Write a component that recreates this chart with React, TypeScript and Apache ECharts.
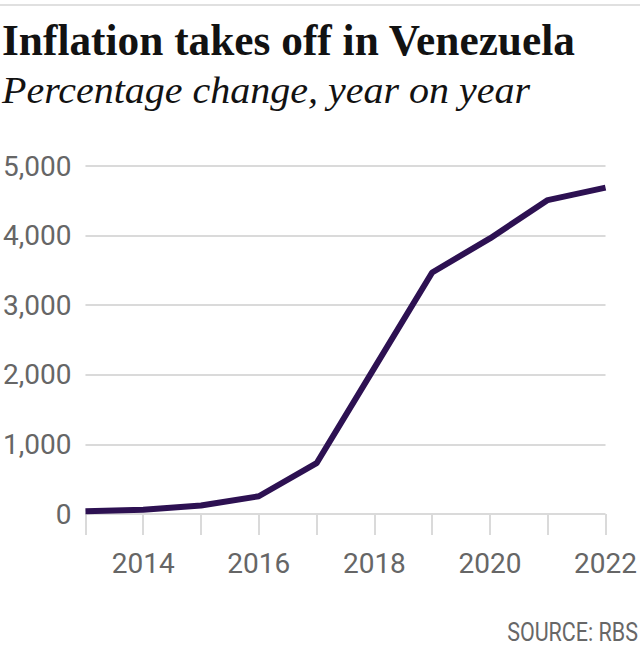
import React, { useEffect, useRef } from "react";
import * as echarts from "echarts";

const TITLE = "Inflation takes off in Venezuela";
const SUBTITLE = "Percentage change, year on year";
const SOURCE = "SOURCE: RBS";

const years = ["2013", "2014", "2015", "2016", "2017", "2018", "2019", "2020", "2021", "2022"];
const inflation = [40, 62, 122, 255, 730, 2100, 3470, 3960, 4510, 4690];

const yMin = 0;
const yMax = 5000;
const yStep = 1000;

function measure(text: string, font: string): number {
  const c = document.createElement("canvas");
  const ctx = c.getContext("2d");
  if (!ctx) return 0;
  ctx.font = font;
  return ctx.measureText(text).width;
}

export default function App() {
  const ref = useRef<HTMLDivElement>(null);

  useEffect(() => {
    if (!ref.current) return;
    const chart = echarts.init(ref.current, undefined, { renderer: "svg" });

    const titleFont = 'bold 44px "Liberation Serif"';
    const subFont = 'italic 38px "Liberation Serif"';
    const srcFont = '26px Roboto';
    const tw = measure(TITLE, titleFont) || 587;
    const sw = measure(SUBTITLE, subFont) || 503;
    const rw = measure(SOURCE, srcFont) || 159;

    chart.setOption({
      animation: false,
      backgroundColor: "#ffffff",
      grid: { left: 83, right: 32, top: 166, bottom: 149, containLabel: false },
      graphic: [
        {
          type: "rect",
          left: 0,
          top: 4,
          shape: { x: 0, y: 0, width: 640, height: 2 },
          style: { fill: "#e0e0e0" },
        },
        {
          type: "text",
          x: 2,
          y: 40,
          scaleX: 574 / tw,
          style: {
            text: TITLE,
            fontFamily: "Liberation Serif",
            fontWeight: "bold",
            fontSize: 44,
            fill: "#121212",
            align: "left",
            verticalAlign: "middle",
          },
        },
        {
          type: "text",
          x: 2,
          y: 90,
          scaleX: 528 / sw,
          style: {
            text: SUBTITLE,
            fontFamily: "Liberation Serif",
            fontStyle: "italic",
            fontSize: 38,
            fill: "#121212",
            align: "left",
            verticalAlign: "middle",
          },
        },
        {
          type: "text",
          x: 638,
          y: 632,
          scaleX: 131 / rw,
          style: {
            text: SOURCE,
            fontFamily: "Roboto",
            fontSize: 26,
            fill: "#676767",
            align: "right",
            verticalAlign: "middle",
          },
        },
      ],
      xAxis: {
        type: "category",
        data: years,
        boundaryGap: false,
        axisLine: { show: false },
        axisTick: {
          show: true,
          interval: 0,
          length: 21,
          lineStyle: { color: "#dadada", width: 2 },
        },
        axisLabel: {
          interval: (index: number, value: string) => Number(value) % 2 === 0,
          margin: 35,
          fontFamily: "Roboto",
          fontSize: 28,
          color: "#666666",
          lineHeight: 28,
        },
        splitLine: { show: false },
      },
      yAxis: {
        type: "value",
        min: yMin,
        max: yMax,
        interval: yStep,
        axisLine: { show: false },
        axisTick: { show: false },
        axisLabel: {
          margin: 14,
          fontFamily: "Roboto",
          fontSize: 28,
          color: "#666666",
          formatter: (v: number) => v.toLocaleString("en-US"),
        },
        splitLine: { show: true, lineStyle: { color: "#dadada", width: 2 } },
      },
      series: [
        {
          type: "line",
          data: inflation,
          symbol: "none",
          lineStyle: { color: "#2d1152", width: 6 },
          z: 5,
        },
      ],
    });

    return () => chart.dispose();
  }, []);

  return (
    <div
      ref={ref}
      style={{ position: "absolute", left: 0, top: 0, width: 640, height: 663, background: "#fff" }}
    />
  );
}
